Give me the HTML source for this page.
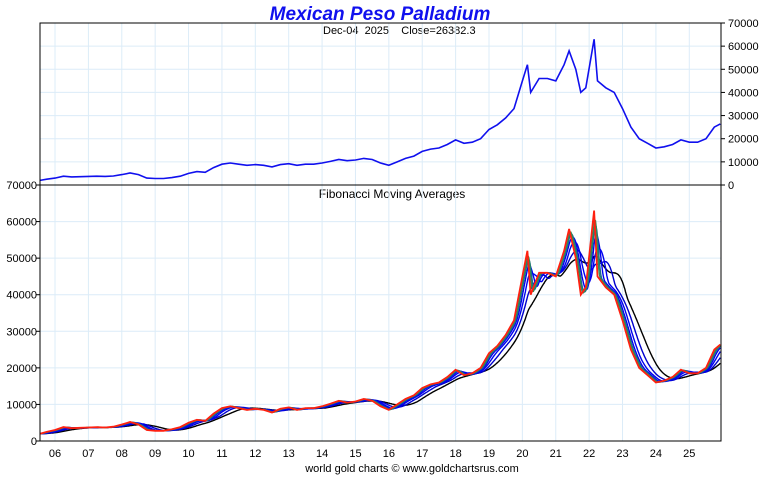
<!DOCTYPE html>
<html><head><meta charset="utf-8"><style>
body{margin:0;background:#fff;width:760px;height:475px;overflow:hidden}
svg text{font-family:"Liberation Sans",sans-serif}
</style></head><body>
<svg id="c" width="760" height="475" xmlns="http://www.w3.org/2000/svg">
<text x="380" y="20" text-anchor="middle" font-size="19" font-weight="bold" font-style="italic" fill="#1010ee">Mexican Peso Palladium</text>
<text x="323" y="34" font-size="11" fill="#000" xml:space="preserve" style="white-space:pre">Dec-04  2025    Close=26382.3</text>
<text x="392" y="198" text-anchor="middle" font-size="12" fill="#000">Fibonacci Moving Averages</text>
<text x="412" y="472" text-anchor="middle" font-size="11" fill="#000">world gold charts © www.goldchartsrus.com</text>
<g id="grid"></g><g id="lines"></g><g id="axes"></g>
</svg>
<script>
const years=[2005.55,2005.75,2006.0,2006.25,2006.5,2006.75,2007.0,2007.25,2007.5,2007.75,2008.0,2008.25,2008.5,2008.75,2009.0,2009.25,2009.5,2009.75,2010.0,2010.25,2010.5,2010.75,2011.0,2011.25,2011.5,2011.75,2012.0,2012.25,2012.5,2012.75,2013.0,2013.25,2013.5,2013.75,2014.0,2014.25,2014.5,2014.75,2015.0,2015.25,2015.5,2015.75,2016.0,2016.25,2016.5,2016.75,2017.0,2017.25,2017.5,2017.75,2018.0,2018.25,2018.5,2018.75,2019.0,2019.25,2019.5,2019.75,2020.0,2020.15,2020.25,2020.5,2020.75,2021.0,2021.25,2021.4,2021.6,2021.75,2021.9,2022.15,2022.25,2022.5,2022.75,2023.0,2023.25,2023.5,2023.75,2024.0,2024.25,2024.5,2024.75,2025.0,2025.25,2025.5,2025.75,2025.93];
const prices=[2000,2500,3000,3800,3500,3600,3700,3800,3700,3900,4500,5200,4500,3000,2800,2800,3200,3800,5000,5800,5500,7500,9000,9500,9000,8500,8800,8500,7800,8800,9200,8500,9000,9000,9500,10200,11000,10500,10800,11500,11000,9500,8500,10000,11500,12500,14500,15500,16000,17500,19500,18000,18500,20000,24000,26000,29000,33000,45000,52000,40000,46000,46000,45000,52000,58000,50000,40000,42000,63000,45000,42000,40000,33000,25000,20000,18000,16000,16500,17500,19500,18500,18500,20000,25000,26382];
const yearLabels=["06","07","08","09","10","11","12","13","14","15","16","17","18","19","20","21","22","23","24","25"];
const yTicks=[0,10000,20000,30000,40000,50000,60000,70000];
const maDays=[21,34,55,89,144,233];
const maColors=["#2e8b57","#1a6a8a","#0000ee","#0000ee","#0000cc","#000000"];
const NS="http://www.w3.org/2000/svg";
const X0=40,X1=721,T0=2005.55,T1=2025.95;
const sx=t=>X0+(t-T0)/(T1-T0)*(X1-X0);
const syTop=v=>185-v/70000*162;
const syBot=v=>441-v/70000*256;
function mk(tag,attrs,parent){const e=document.createElementNS(NS,tag);for(const k in attrs)e.setAttribute(k,attrs[k]);parent.appendChild(e);return e;}
const grid=document.getElementById('grid'),lines=document.getElementById('lines'),axes=document.getElementById('axes');
yearLabels.forEach((l,i)=>{const x=sx(2006+i);
 const g=mk('line',{x1:x,x2:x,y1:23,y2:441,stroke:'#dcecf8','stroke-width':1},grid);
 
 const t=mk('text',{x:x,y:457,'text-anchor':'middle','font-size':11,fill:'#000'},axes);t.textContent=l;
 });
yTicks.forEach(v=>{
 const a=mk('line',{x1:X0,x2:X1,y1:syTop(v),y2:syTop(v),stroke:'#dcecf8'},grid);
 
 const b=mk('line',{x1:X0,x2:X1,y1:syBot(v),y2:syBot(v),stroke:'#dcecf8'},grid);
 
 const t=mk('text',{x:728,y:syTop(v)+4,'font-size':11,fill:'#000'},axes);t.textContent=v;
 
 const t2=mk('text',{x:37,y:syBot(v)+4,'text-anchor':'end','font-size':11,fill:'#000'},axes);t2.textContent=v;
 
 mk('line',{x1:X1,x2:X1+4,y1:syTop(v),y2:syTop(v),stroke:'#000'},axes);
 mk('line',{x1:X0-4,x2:X0,y1:syBot(v),y2:syBot(v),stroke:'#000'},axes);});
const f1=mk('rect',{x:X0,y:23,width:X1-X0,height:418,fill:'none',stroke:'#000'},axes);

const sep=mk('line',{x1:X0,x2:X1,y1:185,y2:185,stroke:'#000'},axes);

function priceAt(t){if(t<=years[0])return prices[0];for(let i=1;i<years.length;i++)if(t<=years[i]){const f=(t-years[i-1])/(years[i]-years[i-1]);return prices[i-1]+f*(prices[i]-prices[i-1]);}return prices[prices.length-1];}
function pathOf(pts,sy){return pts.map((p,i)=>(i?'L':'M')+sx(p[0]).toFixed(1)+','+sy(p[1]).toFixed(1)).join('');}
const pp=years.map((t,i)=>[t,prices[i]]);
const ts=[];for(let t=T0;t<=years[years.length-1]+1e-9;t+=0.02)ts.push(t);
maDays.slice().reverse().forEach((d,ri)=>{const w=d/252,i=maDays.length-1-ri;
 const pts=ts.map(t=>{let s=0,n=24;for(let k=0;k<n;k++){s+=priceAt(Math.max(T0,t-w*k/(n-1)));}return [t,s/n];});
 const p=mk('path',{d:pathOf(pts,syBot),fill:'none',stroke:maColors[i],'stroke-width':1.4},lines);
 });
const pr=mk('path',{d:pathOf(pp,syBot),fill:'none',stroke:'#ff2010','stroke-width':1.8},lines);

const pt=mk('path',{d:pathOf(pp,syTop),fill:'none',stroke:'#1010ee','stroke-width':1.6},lines);

</script>
</body></html>
